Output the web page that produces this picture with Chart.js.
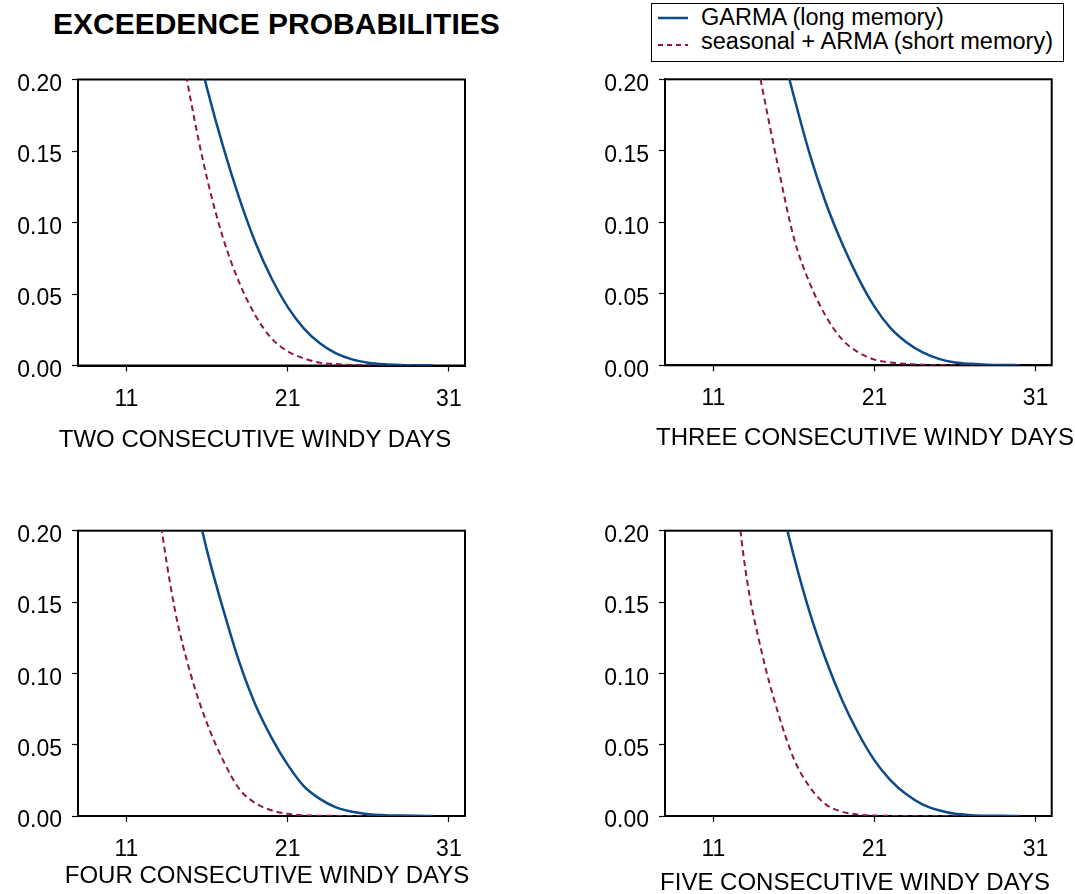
<!DOCTYPE html>
<html lang="en">
<head>
    <meta charset="UTF-8">
    <title>Exceedence probabilities</title>
    <script src="https://cdn.jsdelivr.net/npm/chart.js"></script>
    <style>
        body {
            margin: 0;
            width: 1075px;
            height: 894px;
            overflow: hidden;
            position: relative;
            background: #fff;
            font-family: 'Liberation Sans', Arial, sans-serif;
            color: #000;
        }
        canvas { position: absolute; }
        #mainTitle {
            position: absolute;
            left: 53px;
            top: 9px;
            font-size: 30px;
            line-height: 30px;
            font-weight: bold;
            white-space: nowrap;
        }
        #legend {
            position: absolute;
            left: 651px;
            top: 3px;
            width: 413px;
            height: 59px;
            border: 1.5px solid #000;
            box-sizing: border-box;
        }
        #legend .item {
            position: absolute;
            left: 49px;
            font-size: 23.5px;
            line-height: 23.5px;
            white-space: nowrap;
        }
        #legend svg { position: absolute; left: 5px; }
        .axisTitle {
            position: absolute;
            width: 500px;
            margin-left: -250px;
            text-align: center;
            font-size: 24px;
            line-height: 24px;
            white-space: nowrap;
        }
    </style>
</head>
<body>
    <div id="mainTitle">EXCEEDENCE PROBABILITIES</div>
    <div id="legend">
        <svg width="32" height="6" style="top:11px"><line x1="1" y1="3" x2="31" y2="3" stroke="#0d4a8a" stroke-width="2.5"/></svg>
        <div class="item" style="top:2px">GARMA (long memory)</div>
        <svg width="32" height="6" style="top:38px"><line x1="1" y1="3" x2="31" y2="3" stroke="#8f1550" stroke-width="2" stroke-dasharray="5,4"/></svg>
        <div class="item" style="top:26px">seasonal + ARMA (short memory)</div>
    </div>

    <canvas id="p2days" width="540" height="410" style="left:0px;top:50px"></canvas>
    <canvas id="p3days" width="535" height="410" style="left:540px;top:50px"></canvas>
    <canvas id="p4days" width="540" height="394" style="left:0px;top:500px"></canvas>
    <canvas id="p5days" width="535" height="394" style="left:540px;top:500px"></canvas>

    <div class="axisTitle" style="left:255px;top:427px">TWO CONSECUTIVE WINDY DAYS</div>
    <div class="axisTitle" style="left:865px;top:425px">THREE CONSECUTIVE WINDY DAYS</div>
    <div class="axisTitle" style="left:267px;top:863px">FOUR CONSECUTIVE WINDY DAYS</div>
    <div class="axisTitle" style="left:855px;top:870px">FIVE CONSECUTIVE WINDY DAYS</div>

    <script>
        const BLUE = '#0d4a8a';
        const RED = '#8f1550';

        // days (x values) and ticks
        const days = [12, 13, 14, 15, 16, 17, 18, 19, 20, 21, 22, 23, 24, 25, 26, 27, 28, 29, 30];
        const xTicks = [11, 21, 31];
        const yTicks = [0, 0.05, 0.10, 0.15, 0.20];

        // two consecutive windy days
        const garma2 = [null, null, 0.290, 0.240, 0.194, 0.153, 0.117, 0.086, 0.061, 0.041, 0.026, 0.0155, 0.0085, 0.0043, 0.002, 0.0009, 0.0004, 0.0002, 0.0001];
        const sarma2 = [null, 0.320, 0.250, 0.185, 0.131, 0.089, 0.058, 0.035, 0.019, 0.010, 0.005, 0.002, 0.001, 0.0004, 0.0002, 0.0001, 0, 0, 0];
        // three consecutive windy days
        const garma3 = [null, null, 0.280, 0.232, 0.188, 0.147, 0.113, 0.085, 0.061, 0.041, 0.026, 0.016, 0.009, 0.0045, 0.002, 0.001, 0.0004, 0.0002, 0.0001];
        const sarma3 = [0.310, 0.255, 0.196, 0.140, 0.089, 0.057, 0.034, 0.018, 0.009, 0.004, 0.002, 0.001, 0.0004, 0.0002, 0.0001, 0, 0, 0, 0];
        // four consecutive windy days
        const garma4 = [null, null, 0.280, 0.235, 0.186, 0.145, 0.108, 0.078, 0.055, 0.036, 0.021, 0.012, 0.006, 0.003, 0.0013, 0.0006, 0.0003, 0.0001, 0];
        const sarma4 = [0.300, 0.215, 0.145, 0.099, 0.065, 0.039, 0.019, 0.009, 0.004, 0.0015, 0.0005, 0.0002, 0.0001, 0, 0, 0, 0, 0, 0];
        // five consecutive windy days
        const garma5 = [null, null, 0.275, 0.228, 0.182, 0.142, 0.109, 0.081, 0.058, 0.039, 0.025, 0.015, 0.008, 0.004, 0.0015, 0.0006, 0.0002, 0.0001, 0];
        const sarma5 = [0.270, 0.172, 0.115, 0.073, 0.040, 0.020, 0.008, 0.003, 0.001, 0.0003, 0.0001, 0, 0, 0, 0, 0, 0, 0, 0];

        Chart.defaults.font.family = "'Liberation Sans', Arial, sans-serif";
        Chart.defaults.color = '#000';

        // full frame round the plot area (drawn under the curves)
        const boxPlugin = {
            id: 'box',
            beforeDatasetsDraw(chart) {
                const a = chart.chartArea;
                const ctx = chart.ctx;
                ctx.save();
                ctx.strokeStyle = '#000';
                ctx.lineWidth = 2;
                ctx.strokeRect(a.left, a.top, a.right - a.left, a.bottom - a.top);
                ctx.restore();
            }
        };

        function pts(vals) {
            return days.map((d, i) => ({ x: d, y: vals[i] }));
        }

        function makePanel(id, garma, sarma, g) {
            const gridOpts = { drawOnChartArea: false, tickLength: 6, tickColor: '#000', tickWidth: 1.2 };
            const borderOpts = { display: true, color: '#000', width: 2 };
            return new Chart(document.getElementById(id), {
                type: 'line',
                data: {
                    datasets: [
                        { label: 'GARMA (long memory)', data: pts(garma), borderColor: BLUE, borderWidth: 2.5 },
                        { label: 'seasonal + ARMA (short memory)', data: pts(sarma), borderColor: RED, borderWidth: 2, borderDash: [6, 4] }
                    ]
                },
                options: {
                    responsive: false,
                    animation: false,
                    layout: { padding: { top: g.top, right: g.right, left: 0, bottom: 0 } },
                    plugins: { legend: { display: false }, tooltip: { enabled: false } },
                    elements: {
                        point: { radius: 0 },
                        line: { cubicInterpolationMode: 'monotone', fill: false }
                    },
                    scales: {
                        x: {
                            type: 'linear', min: 8, max: 32,
                            afterBuildTicks: s => { s.ticks = xTicks.map(v => ({ value: v })); },
                            afterFit: s => { s.height = g.xh; },
                            ticks: { font: { size: 23 }, color: '#000', padding: 14, maxRotation: 0, autoSkip: false },
                            grid: gridOpts,
                            border: borderOpts
                        },
                        y: {
                            min: 0, max: 0.2,
                            afterBuildTicks: s => { s.ticks = yTicks.map(v => ({ value: v })); },
                            afterFit: s => { s.width = g.yw; },
                            ticks: { font: { size: 23 }, color: '#000', padding: 10, labelOffset: 5, callback: v => v.toFixed(2) },
                            grid: gridOpts,
                            border: borderOpts
                        }
                    }
                },
                plugins: [boxPlugin]
            });
        }

        makePanel('p2days', garma2, sarma2, { top: 29.5, right: 75, yw: 78, xh: 94.5 });
        makePanel('p3days', garma3, sarma3, { top: 29.3, right: 23.3, yw: 125, xh: 94.7 });
        makePanel('p4days', garma4, sarma4, { top: 30.7, right: 75, yw: 78, xh: 78 });
        makePanel('p5days', garma5, sarma5, { top: 30.7, right: 23.3, yw: 125, xh: 78 });
    </script>
</body>
</html>
